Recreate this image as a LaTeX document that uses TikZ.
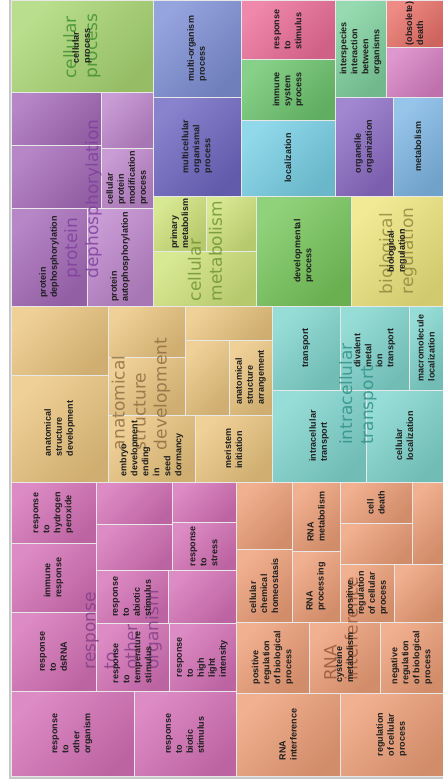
\documentclass[tikz,border=0pt]{standalone}
\usepackage{fontspec}
\newfontfamily\lblfnt{Liberation Sans}
\newfontfamily\bigfnt{DejaVu Sans}
\definecolor{cGreenA}{HTML}{AAD774}
\definecolor{cBlue}{HTML}{7E90D6}
\definecolor{cIndigo}{HTML}{6F67C2}
\definecolor{cPinkRed}{HTML}{EC6E98}
\definecolor{cGreenB}{HTML}{6DC66F}
\definecolor{cCyan}{HTML}{78D0E6}
\definecolor{cTealG}{HTML}{80D2A0}
\definecolor{cSalmon}{HTML}{EA726A}
\definecolor{cPinkP}{HTML}{D880C4}
\definecolor{cPurple}{HTML}{8C6CC6}
\definecolor{cLBlue}{HTML}{80B8E6}
\definecolor{cProt}{HTML}{A66BBA}
\definecolor{cProtL}{HTML}{BE86CC}
\definecolor{cCMet}{HTML}{D0E47C}
\definecolor{cDev}{HTML}{78C85C}
\definecolor{cBReg}{HTML}{EFE67E}
\definecolor{cAnat}{HTML}{ECC680}
\definecolor{cTeal}{HTML}{80D6CE}
\definecolor{cResp}{HTML}{D672B8}
\definecolor{cRNA}{HTML}{EE9F78}
\definecolor{tGreen}{HTML}{3F8E30}
\definecolor{tProt}{HTML}{7E3E9E}
\definecolor{tCMet}{HTML}{6E9230}
\definecolor{tBReg}{HTML}{8E863A}
\definecolor{tAnat}{HTML}{8C6C40}
\definecolor{tTeal}{HTML}{2E9086}
\definecolor{tResp}{HTML}{823E86}
\definecolor{tRNA}{HTML}{965638}
\definecolor{cFrame}{HTML}{C8C8C8}
\tikzset{
  cellbox/.style={draw=white!82!gray, line width=0.7pt, inner sep=0pt, outer sep=0pt,
    top color=#1!82!white, bottom color=#1!88!black, shading angle=45},
  smalllbl/.style={rotate=90, align=left, inner sep=0pt, text=black!88,
    font=\lblfnt\bfseries\fontsize{9}{11}\selectfont},
  biglbl/.style={rotate=90, align=left, inner sep=0pt, text=#1, text opacity=0.82,
    font=\bigfnt\fontsize{17}{21}\selectfont}
}
\newcommand{\tmcell}[6]{\node[cellbox=#6, anchor=north west,
  minimum width={(#4-#2)*1pt}, minimum height={(#5-#3)*1pt}] (#1) at (#2,#3) {};}
\newcommand{\tmlbl}[2]{\node[smalllbl] (#1-l) at (#1.center) {#2};}
\begin{document}
\begin{tikzpicture}[x=1pt,y=-1pt]
\useasboundingbox (0,0) rectangle (443,779);
\fill[white] (0,0) rectangle (443,779);
\fill[cFrame] (8.5,0) rectangle (11,779);
\fill[cFrame] (8.5,776) rectangle (443,779);
% top region
\tmcell{cp}{11}{0}{153}{92}{cGreenA}
\tmcell{mop}{153}{0}{241}{97}{cBlue}
\tmcell{mcop}{153}{97}{241}{196}{cIndigo}
\tmcell{rts}{241}{0}{335}{59}{cPinkRed}
\tmcell{isp}{241}{59}{335}{120}{cGreenB}
\tmcell{loc}{241}{120}{335}{196}{cCyan}
\tmcell{iibo}{335}{0}{386}{97}{cTealG}
\tmcell{death}{386}{0}{443}{47}{cSalmon}
\tmcell{pk}{386}{47}{443}{97}{cPinkP}
\tmcell{oo}{335}{97}{393}{196}{cPurple}
\tmcell{met}{393}{97}{443}{196}{cLBlue}
% protein group
\tmcell{p1}{11}{92}{101}{145}{cProt}
\tmcell{p2}{11}{145}{101}{208}{cProt}
\tmcell{p3}{101}{92}{153}{148}{cProtL}
\tmcell{p4}{101}{148}{153}{208}{cProtL}
\tmcell{p5}{11}{208}{87}{306}{cProt}
\tmcell{p6}{87}{208}{153}{306}{cProtL}
% cellular metabolism etc
\tmcell{cm1}{153}{196}{206}{251}{cCMet}
\tmcell{cm2}{206}{196}{256}{251}{cCMet}
\tmcell{cm3}{153}{251}{256}{306}{cCMet}
\tmcell{dev}{256}{196}{351}{306}{cDev}
\tmcell{br}{351}{196}{443}{306}{cBReg}
% anatomical
\tmcell{a1}{11}{306}{108}{375}{cAnat}
\tmcell{a2}{11}{375}{108}{482}{cAnat}
\tmcell{a3}{108}{306}{185}{357}{cAnat}
\tmcell{a4}{108}{357}{185}{415}{cAnat}
\tmcell{a5}{185}{306}{272}{340}{cAnat}
\tmcell{a6}{185}{340}{229}{415}{cAnat}
\tmcell{a7}{229}{340}{272}{415}{cAnat}
\tmcell{a8}{108}{415}{195}{482}{cAnat}
\tmcell{a9}{195}{415}{272}{482}{cAnat}
% teal
\tmcell{t1}{272}{306}{340}{390}{cTeal}
\tmcell{t2}{340}{306}{409}{390}{cTeal}
\tmcell{t3}{409}{306}{443}{390}{cTeal}
\tmcell{t4}{272}{390}{366}{482}{cTeal}
\tmcell{t5}{366}{390}{443}{482}{cTeal}
% response
\tmcell{r1}{11}{482}{96}{543}{cResp}
\tmcell{r2}{11}{543}{96}{612}{cResp}
\tmcell{r3}{11}{612}{96}{691}{cResp}
\tmcell{r4}{11}{691}{134}{776}{cResp}
\tmcell{r5}{134}{691}{236}{776}{cResp}
\tmcell{r6}{96}{482}{172}{524}{cResp}
\tmcell{r7}{96}{524}{172}{570}{cResp}
\tmcell{r8}{172}{482}{236}{522}{cResp}
\tmcell{r9}{172}{522}{236}{570}{cResp}
\tmcell{r10}{96}{570}{168}{623}{cResp}
\tmcell{r11}{168}{570}{236}{623}{cResp}
\tmcell{r12}{96}{623}{169}{691}{cResp}
\tmcell{r13}{169}{623}{236}{691}{cResp}
% RNA
\tmcell{n1}{236}{482}{292}{549}{cRNA}
\tmcell{n2}{236}{549}{292}{622}{cRNA}
\tmcell{n3}{292}{482}{340}{551}{cRNA}
\tmcell{n4}{292}{551}{340}{622}{cRNA}
\tmcell{n5}{340}{482}{412}{523}{cRNA}
\tmcell{n6}{340}{523}{412}{564}{cRNA}
\tmcell{n7}{412}{482}{443}{564}{cRNA}
\tmcell{n8}{340}{564}{394}{622}{cRNA}
\tmcell{n9}{394}{564}{443}{622}{cRNA}
\tmcell{n10}{236}{622}{309}{693}{cRNA}
\tmcell{n11}{309}{622}{380}{693}{cRNA}
\tmcell{n12}{380}{622}{443}{693}{cRNA}
\tmcell{n13}{236}{693}{340}{776}{cRNA}
\tmcell{n14}{340}{693}{443}{776}{cRNA}
% big labels
\node[biglbl=tGreen] (bcp) at (82,46) {cellular\\process};
\node[biglbl=tProt] (bpd) at (83,199) {protein\\dephosphorylation};
\node[biglbl=tCMet] (bcm) at (205,251) {cellular\\metabolism};
\node[biglbl=tBReg] (bbr) at (398,251) {biological\\regulation};
\node[biglbl=tAnat] (bad) at (141,394) {anatomical\\structure\\development};
\node[biglbl=tTeal] (bit) at (358,394) {intracellular\\transport};
\node[biglbl=tResp] (bro) at (124,630) {response\\to\\other\\organism};
\node[biglbl=tRNA] (bri) at (341,629) {RNA\\interference};
% small labels
\tmlbl{cp}{cellular\\process}
\tmlbl{mop}{multi-organism\\process}
\tmlbl{mcop}{multicellular\\organismal\\process}
\tmlbl{rts}{response\\to\\stimulus}
\tmlbl{isp}{immune\\system\\process}
\tmlbl{loc}{localization}
\tmlbl{iibo}{interspecies\\interaction\\between\\organisms}
\tmlbl{death}{(obsolete)\\death}
\tmlbl{oo}{organelle\\organization}
\tmlbl{met}{metabolism}
\tmlbl{p4}{cellular\\protein\\modification\\process}
\tmlbl{p5}{protein\\dephosphorylation}
\tmlbl{p6}{protein\\autophosphorylation}
\tmlbl{cm1}{primary\\metabolism}
\tmlbl{dev}{developmental\\process}
\tmlbl{br}{biological\\regulation}
\tmlbl{a2}{anatomical\\structure\\development}
\tmlbl{a7}{anatomical\\structure\\arrangement}
\tmlbl{a8}{embryo\\development\\ending\\in\\seed\\dormancy}
\tmlbl{a9}{meristem\\initiation}
\tmlbl{t1}{transport}
\tmlbl{t2}{divalent\\metal\\ion\\transport}
\tmlbl{t3}{macromolecule\\localization}
\tmlbl{t4}{intracellular\\transport}
\tmlbl{t5}{cellular\\localization}
\tmlbl{r1}{response\\to\\hydrogen\\peroxide}
\tmlbl{r2}{immune\\response}
\tmlbl{r3}{response\\to\\dsRNA}
\tmlbl{r4}{response\\to\\other\\organism}
\tmlbl{r5}{response\\to\\biotic\\stimulus}
\tmlbl{r9}{response\\to\\stress}
\tmlbl{r10}{response\\to\\abiotic\\stimulus}
\tmlbl{r12}{response\\to\\temperature\\stimulus}
\tmlbl{r13}{response\\to\\high\\light\\intensity}
\tmlbl{n2}{cellular\\chemical\\homeostasis}
\tmlbl{n3}{RNA\\metabolism}
\tmlbl{n4}{RNA\\processing}
\tmlbl{n5}{cell\\death}
\tmlbl{n8}{positive\\regulation\\of cellular\\process}
\tmlbl{n10}{positive\\regulation\\of biological\\process}
\tmlbl{n11}{cysteine\\metabolism}
\tmlbl{n12}{negative\\regulation\\of biological\\process}
\tmlbl{n13}{RNA\\interference}
\tmlbl{n14}{regulation\\of cellular\\process}
\end{tikzpicture}
\end{document}
